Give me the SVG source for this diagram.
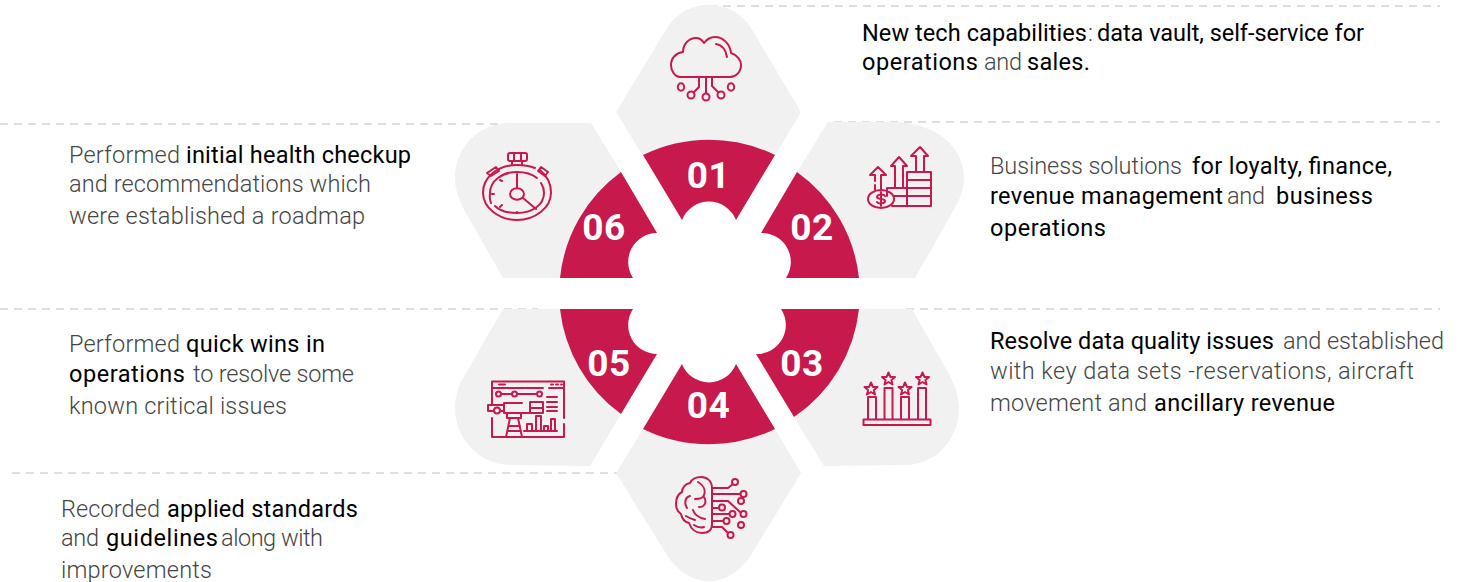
<svg xmlns="http://www.w3.org/2000/svg" width="1464" height="582" viewBox="0 0 1464 582">
<style>
.hex{fill:#f1f1f1}
.seg{fill:#c8194c}
.num{font-family:Roboto,"Liberation Sans",sans-serif;font-weight:700;font-size:37px;letter-spacing:.5px;fill:#fff;text-anchor:middle}
.t{font-family:Roboto,"Liberation Sans",sans-serif;font-weight:300;font-size:23.500px;fill:#454545}
.b{fill:#000;font-weight:400}
.dash{fill:none;stroke:#dedede;stroke-width:2;stroke-dasharray:8 6}
.ic{fill:none;stroke:#c8194c;stroke-width:2;stroke-linecap:round;stroke-linejoin:round}
</style>
<defs>
<polygon id="star" points="0,-6.5 1.9,-2.1 6.5,-2 2.9,1 4,5.5 0,3 -4,5.5 -2.9,1 -6.5,-2 -1.9,-2.1"/>
</defs>
<g id="connectors">
<path class="dash" d="M709 6H1440"/>
<path class="dash" d="M834 122H1440"/>
<path class="dash" d="M0 124H538"/>
<path class="dash" d="M0 309H538"/>
<path class="dash" d="M906 309H1440"/>
<path class="dash" d="M12 473H622"/>
</g>
<g id="node-01">
<path class="hex" d="M643 156L616 112L667 28C677 12 692 5 709 5C726 5 741 12 751 28L801 112L775 156Z"/>
<path class="seg" d="M643 155A150 150 0 0 1 775 155L736 220A29 29 0 0 0 682 220Z"/>
<text class="num" x="708.500" y="188">01</text>
<g class="ic"><path d="M680 77C675 77 671 71 671 65C671 58 676 53 683 52C683 44 689 38 696 38C699 38 702 40 704 43C707 39 711 37 715 37C723 37 730 44 731 53C737 55 741 60 741 65C741 72 736 77 730 77Z"/><path d="M716 44C722 45 726 50 727 57M706 77V93M699 77V87L694 92M712 77V86L718 92"/><ellipse cx="681" cy="87" rx="3.2" ry="3.8"/><circle cx="691" cy="95" r="3.5"/><circle cx="706" cy="97" r="3.5"/><circle cx="721" cy="95" r="3.5"/><ellipse cx="731" cy="87" rx="3.2" ry="3.8"/></g>
</g>
<g id="node-02">
<path class="hex" d="M797 172L828 122H890C940 122 964 150 964 178C964 192 958 203 952 213L915 278H850Z"/>
<path class="seg" d="M797 172A150 150 0 0 1 859 278H786A29 29 0 0 0 761 233Z"/>
<text class="num" x="812" y="240">02</text>
<g class="ic"><path d="M907 172H931V206H907ZM907 180H931M907 188H931M907 196H931M887 196V188H907M892 206H907M894 196H907"/><path d="M916 172V156H911L920 147L928 156H924V172M895 187V166H891L899 157L907 166H903V187M875 181V175H870L878 167L886 175H881V190M875 185V190"/><ellipse cx="881" cy="199" rx="13" ry="9"/><path d="M885 196C884 194 877 194 877 197C877 200 885 198 885 201C885 204 878 204 877 202M881 192V206"/></g>
</g>
<g id="node-03">
<path class="hex" d="M794 417L824 466L905 465C935 465 959 440 959 408C959 395 954 385 950 376L912 309H850Z"/>
<path class="seg" d="M859 309A150 150 0 0 1 794 417L756 354A29 29 0 0 0 781 309Z"/>
<text class="num" x="802" y="376">03</text>
<g class="ic"><path d="M863.500 419.500H930.500V425H863.500ZM868 419V397H876V419M884.500 419V388H892.500V419M901 419V397H909V419M918 419V388H926V419"/><use href="#star" x="871" y="389"/><use href="#star" x="888.500" y="379"/><use href="#star" x="905" y="389"/><use href="#star" x="922.500" y="379"/></g>
</g>
<g id="node-04">
<path class="hex" d="M643 429L616 473L667 555C677 571 692 581 709 581C726 581 741 571 751 555L801 473L775 429Z"/>
<path class="seg" d="M775 429A150 150 0 0 1 643 429L682 364A29 29 0 0 0 736 364Z"/>
<text class="num" x="708.500" y="418">04</text>
<g class="ic"><path d="M712 488C712 481 707 477 701 477C696 477 692 479 690 483C685 484 682 488 682 492C678 494 676 499 676 504C676 508 678 512 681 514C682 519 685 522 689 523C691 529 696 533 702 533C708 533 712 530 712 524Z"/><path d="M698 482C703 485 706 490 704 495C703 499 698 499 695 499M704 497C707 502 705 507 699 507M690 496C685 497 684 503 687 508M693 510C695 516 700 518 705 519M686 516C689 518 692 519 695 520M694 525C697 527 701 528 704 527"/><path d="M712 488H728L733 484M712 494H740M712 501H728L740 512M712 508H719M712 514H729M712 521H723M712 527H722L727 532M712 488V524"/><circle cx="735" cy="482" r="3"/><circle cx="743.500" cy="494" r="3"/><circle cx="741" cy="501" r="3"/><circle cx="722" cy="507.500" r="3"/><circle cx="743.500" cy="514" r="3"/><circle cx="732.500" cy="514" r="3"/><circle cx="726.500" cy="521" r="3"/><circle cx="741" cy="525" r="3"/><circle cx="730.500" cy="535" r="3"/></g>
</g>
<g id="node-05">
<path class="hex" d="M503 309L462 380C458 388 455 397 455 408C455 438 478 464 510 465L590 466L621 414L570 309Z"/>
<path class="seg" d="M560 309H633A29 29 0 0 0 657 354L621 414A150 150 0 0 1 560 309Z"/>
<text class="num" x="609" y="376">05</text>
<g class="ic"><path d="M492 404V381.500H564V418M564 424V437H492V418M492 388H543M549 388H564M499 384.500H505M551 384.500H553M556 384.500H558M561 384.500H562"/><path d="M501 394H511M517 394H536"/><circle cx="498.500" cy="394" r="2.500"/><circle cx="514.500" cy="394" r="2.500"/><circle cx="539.500" cy="394" r="2.500"/><path d="M547 397H557M547 402H557M547 407H557M547 411H557M530 402H543V413H530ZM530 408H543M504 403V413H530M504 403H522M504 405H488V411H493M501 411H504"/><circle cx="497" cy="410.500" r="3"/><path d="M507 413V418H521V413M510 418L506 437M518 418L522 437M509 426H520M508 431H521"/><path d="M524 431H557M527 431V424H532V431M536 431V416H541V431M544 431V426H548V431M551 431V419H555V431"/></g>
</g>
<g id="node-06">
<path class="hex" d="M621 172L591 123H510C478 123 455 148 455 178C455 190 459 198 463 208L503 278H570Z"/>
<path class="seg" d="M621 172L657 233A29 29 0 0 0 633 278H560A150 150 0 0 1 621 172Z"/>
<text class="num" x="604" y="240">06</text>
<g class="ic"><path d="M540 170C546 175 551 183 551 192.500C551 208 535 220 517 220C499 220 483 208 483 192.500C483 178 497 165 517 165C524 165 530 166 535 168"/><path d="M491 203C489 199 490 196 490 193C490 181 502 172 517 172C525 172 532 174 537 178M541 183C543 186 544 189 544 193C544 205 532 213 517 213C508 213 500 211 495 206"/><ellipse cx="517" cy="194" rx="7" ry="5.800"/><path d="M517 174V188M523 198L536 209M492 194H494M500 180L502 181M517 212V213M500 207L502 205"/><rect x="508" y="153" width="19" height="8" rx="2"/><path d="M514 153V161M521 153V161M512 161V165M522 161V165"/><path d="M487 173L496 167L499 171L491 176ZM538 171L541 167L548 172L545 176Z"/></g>
</g>
<g id="text-01">
<text class="t b" x="862" y="41" textLength="225">New tech capabilities</text><text class="t" x="1088" y="41">:</text><text class="t b" x="1097" y="41" textLength="267">data vault, self-service for</text>
<text class="t b" x="862" y="70" textLength="116">operations</text><text class="t" x="984" y="70" textLength="38">and</text><text class="t b" x="1027" y="70" textLength="63">sales.</text>
</g>
<g id="text-02">
<text class="t" x="990" y="174" textLength="192">Business solutions</text><text class="t b" x="1192" y="174" textLength="200">for loyalty, finance,</text>
<text class="t b" x="990" y="204" textLength="233">revenue management</text><text class="t" x="1227" y="204" textLength="38">and</text><text class="t b" x="1276" y="204" textLength="97">business</text>
<text class="t b" x="990" y="236" textLength="116">operations</text>
</g>
<g id="text-03">
<text class="t b" x="990" y="349" textLength="284">Resolve data quality issues</text><text class="t" x="1283" y="349" textLength="161">and established</text>
<text class="t" x="990" y="379" textLength="424">with key data sets -reservations, aircraft</text>
<text class="t" x="990" y="411" textLength="157">movement and</text><text class="t b" x="1154" y="411" textLength="181">ancillary revenue</text>
</g>
<g id="text-04">
<text class="t" x="61" y="517" textLength="99">Recorded</text><text class="t b" x="167" y="517" textLength="191">applied standards</text>
<text class="t" x="61" y="546" textLength="38">and</text><text class="t b" x="106" y="546" textLength="112">guidelines</text><text class="t" x="221" y="546" textLength="102">along with</text>
<text class="t" x="61" y="578" textLength="151">improvements</text>
</g>
<g id="text-05">
<text class="t" x="69" y="352" textLength="111">Performed</text><text class="t b" x="186" y="352" textLength="139">quick wins in</text>
<text class="t b" x="69" y="382" textLength="116">operations</text><text class="t" x="193" y="382" textLength="161">to resolve some</text>
<text class="t" x="69" y="414" textLength="218">known critical issues</text>
</g>
<g id="text-06">
<text class="t" x="69" y="163" textLength="111">Performed</text><text class="t b" x="186" y="163" textLength="225">initial health checkup</text>
<text class="t" x="69" y="192" textLength="302">and recommendations which</text>
<text class="t" x="69" y="224" textLength="296">were established a roadmap</text>
</g>
</svg>
